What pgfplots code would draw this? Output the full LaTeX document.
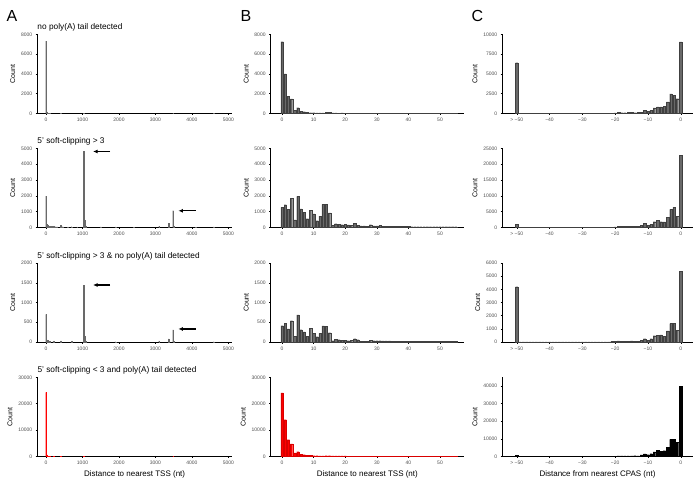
\documentclass[border=0pt]{standalone}
\usepackage{pgfplots}
\pgfplotsset{compat=1.18}
\usepackage{fontspec}
\setmainfont{Liberation Sans}
\usetikzlibrary{arrows.meta}
\definecolor{bargrey}{RGB}{105,105,105}
\definecolor{tickgrey}{RGB}{77,77,77}
\pgfplotsset{
 panel/.style={
   scale only axis, height=79pt,
   axis lines*=left,
   axis line style={-, line width=0.45pt},
   tick align=outside,
   major tick length=1.6pt,
   tick style={line width=0.4pt, black},
   ticklabel style={font=\fontsize{5}{5.5}\selectfont, text=tickgrey},
   /pgf/number format/assume math mode=true,
   /pgf/number format/1000 sep={},
   scaled y ticks=false,
   ymin=0, anchor=south west,
   ylabel={Count},
   ylabel style={font=\fontsize{7}{7.5}\selectfont, yshift=-1pt},
   xlabel style={font=\fontsize{8}{8.5}\selectfont, yshift=1.5pt},
   every axis title/.style={at={(axis description cs:0,1)}, anchor=base west, yshift=4.8pt, font=\fontsize{8.3}{9}\selectfont, inner sep=0pt},
 },
 colA/.style={panel, width=194.7pt, xmin=-240, xmax=5100, xtick={0,1000,2000,3000,4000,5000}, ybar, bar width=22},
 colB/.style={panel, width=193.3pt, xmin=-3.6, xmax=57.6, xtick={0,10,20,30,40,50}, ybar, bar width=0.75},
 colC/.style={panel, width=190.4pt, xmin=-54.4, xmax=3.66, xtick={-50,-40,-30,-20,-10,0}, xticklabels={> −50,−40,−30,−20,−10,0}, ybar, bar width=0.75},
 greybar/.style={fill=bargrey, draw=black!75, line width=0.2pt},
 redbar/.style={fill=red, draw=red!85!black, line width=0.2pt},
 blackbar/.style={fill=black, draw=black, line width=0.2pt},
 spike/.style={fill=bargrey, draw=bargrey, line width=0.2pt},
 spikered/.style={fill=red, draw=red, line width=0.2pt},
}
\begin{document}
\begin{tikzpicture}
\useasboundingbox (0,0) rectangle (700pt,-480pt);
\node[anchor=base west, inner sep=0, font=\fontsize{16}{16}\selectfont] at (6.5pt,-21.7pt) {A};
\node[anchor=base west, inner sep=0, font=\fontsize{16}{16}\selectfont] at (240.5pt,-21.7pt) {B};
\node[anchor=base west, inner sep=0, font=\fontsize{16}{16}\selectfont] at (471.5pt,-21.7pt) {C};

% ---------------- Column A ----------------
\begin{axis}[colA, at={(37.3pt,-113.3pt)}, ymax=8000, ytick={0,2000,4000,6000,8000}, title={no poly(A) tail detected}]
\addplot[spike] coordinates {(0,7300) (20,160) (40,50) (100,30) (400,25) (1030,30) (3485,15) (4600,10)};
\end{axis}
\begin{axis}[colA, at={(37.3pt,-227.3pt)}, ymax=5000, ytick={0,1000,2000,3000,4000,5000}, title={5' soft-clipping > 3}]
\addplot[spike] coordinates {(0,1980) (20,200) (40,120) (70,80) (100,60) (150,50) (200,50) (250,40) (300,40) (410,110) (460,40) (600,30) (700,40) (850,20) (1030,4800) (1050,480) (1080,60) (1500,20) (1900,30) (2400,15) (3100,60) (3365,250) (3485,1050) (3510,80) (4100,15) (4600,20)};
\draw[-{Latex[length=4.5pt,width=4pt]}, line width=1.3pt] (axis cs:1760,4800) -- (axis cs:1290,4800);
\draw[-{Latex[length=4.5pt,width=4pt]}, line width=1.3pt] (axis cs:4100,1045) -- (axis cs:3630,1045);
\end{axis}
\begin{axis}[colA, at={(37.3pt,-342pt)}, ymax=2000, ytick={0,500,1000,1500,2000}, title={5' soft-clipping > 3 \& no poly(A) tail detected}]
\addplot[spike] coordinates {(0,700) (20,60) (40,40) (100,20) (200,15) (410,30) (700,15) (1030,1440) (1050,150) (1080,20) (1900,10) (3100,30) (3365,80) (3485,310) (3510,20) (4600,10)};
\draw[-{Latex[length=4.5pt,width=4pt]}, line width=1.3pt] (axis cs:1760,1443) -- (axis cs:1290,1443);
\draw[-{Latex[length=4.5pt,width=4pt]}, line width=1.3pt] (axis cs:4100,330) -- (axis cs:3630,330);
\end{axis}
\begin{axis}[colA, at={(37.3pt,-456.3pt)}, ymax=30000, ytick={0,10000,20000,30000}, title={5' soft-clipping < 3 and poly(A) tail detected}, xlabel={Distance to nearest TSS (nt)}]
\addplot[spikered] coordinates {(0,24300) (20,600) (40,200) (100,100) (200,60) (400,40) (1030,30) (3485,20)};
\end{axis}

% ---------------- Column B ----------------
\begin{axis}[colB, at={(270.7pt,-113.3pt)}, ymax=8000, ytick={0,2000,4000,6000,8000}]
\addplot[greybar] coordinates {(0,7260) (1,4000) (2,1730) (3,1450) (4,330) (5,570) (6,200) (7,170) (8,100) (9,60) (10,60) (11,40) (12,40) (13,50) (14,120) (15,100) (16,40) (17,40) (18,30) (19,40) (20,30) (21,30) (22,30) (23,30) (24,25) (25,25) (26,25) (27,25) (28,30) (29,25) (30,25) (31,25) (32,20) (33,20) (34,20) (35,20) (36,20) (37,20) (38,20) (39,20) (40,20) (41,15) (42,15) (43,15) (44,15) (45,15) (46,15) (47,15) (48,15) (49,15) (50,15) (51,15) (52,15) (53,15) (54,15) (55,15)};
\end{axis}
\begin{axis}[colB, at={(270.7pt,-227.3pt)}, ymax=5000, ytick={0,1000,2000,3000,4000,5000}]
\addplot[greybar] coordinates {(0,1265) (1,1435) (2,1140) (3,1835) (4,465) (5,1960) (6,1160) (7,950) (8,550) (9,1075) (10,845) (11,420) (12,700) (13,1455) (14,1455) (15,907) (16,130) (17,230) (18,190) (19,170) (20,190) (21,150) (22,130) (23,250) (24,130) (25,85) (26,85) (27,60) (28,170) (29,85) (30,85) (31,130) (32,80) (33,80) (34,80) (35,80) (36,70) (37,70) (38,50) (39,50) (40,50) (41,40) (42,40) (43,40) (44,40) (45,40) (46,40) (47,40) (48,40) (49,40) (50,40) (51,40) (52,40) (53,40) (54,40) (55,40)};
\end{axis}
\begin{axis}[colB, at={(270.7pt,-342pt)}, ymax=2000, ytick={0,500,1000,1500,2000}]
\addplot[greybar] coordinates {(0,415) (1,475) (2,330) (3,540) (4,145) (5,686) (6,313) (7,254) (8,145) (9,347) (10,220) (11,135) (12,220) (13,407) (14,398) (15,237) (16,35) (17,75) (18,60) (19,50) (20,50) (21,35) (22,40) (23,85) (24,60) (25,25) (26,20) (27,20) (28,50) (29,35) (30,35) (31,35) (32,30) (33,30) (34,30) (35,25) (36,25) (37,25) (38,20) (39,20) (40,15) (41,15) (42,15) (43,15) (44,15) (45,15) (46,15) (47,15) (48,15) (49,15) (50,15) (51,15) (52,15) (53,15) (54,15) (55,15)};
\end{axis}
\begin{axis}[colB, at={(270.7pt,-456.3pt)}, ymax=30000, ytick={0,10000,20000,30000}, xlabel={Distance to nearest TSS (nt)}]
\addplot[redbar] coordinates {(0,24050) (1,13900) (2,6330) (3,4680) (4,1270) (5,1770) (6,760) (7,630) (8,380) (9,380) (10,250) (11,220) (12,200) (13,200) (14,250) (15,250) (16,150) (17,150) (18,120) (19,120) (20,120) (21,100) (22,100) (23,100) (24,100) (25,100) (26,100) (27,100) (28,100) (29,100) (30,100) (31,80) (32,80) (33,80) (34,80) (35,80) (36,80) (37,80) (38,80) (39,80) (40,80) (41,60) (42,60) (43,60) (44,60) (45,60) (46,60) (47,60) (48,60) (49,60) (50,60) (51,60) (52,60) (53,60) (54,60) (55,60)};
\end{axis}

% ---------------- Column C ----------------
\begin{axis}[colC, at={(502.3pt,-113.3pt)}, ymax=10000, ytick={0,2500,5000,7500,10000}]
\addplot[greybar] coordinates {(-50,6400) (-49,30) (-48,30) (-47,30) (-46,30) (-45,30) (-44,30) (-43,30) (-42,30) (-41,30) (-40,30) (-39,30) (-38,30) (-37,30) (-36,30) (-35,30) (-34,30) (-33,30) (-32,30) (-31,30) (-30,30) (-29,30) (-28,30) (-27,30) (-26,30) (-25,30) (-24,30) (-23,30) (-22,30) (-21,30) (-20,50) (-19,120) (-18,80) (-17,80) (-16,100) (-15,100) (-14,80) (-13,150) (-12,150) (-11,400) (-10,250) (-9,380) (-8,700) (-7,820) (-6,820) (-5,850) (-4,1450) (-3,2450) (-2,2300) (-1,1850) (0,9050)};
\end{axis}
\begin{axis}[colC, at={(502.3pt,-227.3pt)}, ymax=25000, ytick={0,5000,10000,15000,20000,25000}]
\addplot[greybar] coordinates {(-50,900) (-49,80) (-48,80) (-47,80) (-46,80) (-45,80) (-44,80) (-43,80) (-42,80) (-41,80) (-40,80) (-39,80) (-38,80) (-37,80) (-36,80) (-35,80) (-34,80) (-33,80) (-32,80) (-31,80) (-30,80) (-29,80) (-28,80) (-27,80) (-26,80) (-25,80) (-24,80) (-23,80) (-22,80) (-21,80) (-20,150) (-19,250) (-18,250) (-17,250) (-16,300) (-15,250) (-14,300) (-13,250) (-12,600) (-11,1250) (-10,650) (-9,900) (-8,1800) (-7,2300) (-6,1800) (-5,1750) (-4,3200) (-3,5700) (-2,6300) (-1,3400) (0,22800)};
\end{axis}
\begin{axis}[colC, at={(502.3pt,-342pt)}, ymax=6000, ytick={0,1000,2000,3000,4000,5000,6000}]
\addplot[greybar] coordinates {(-50,4200) (-49,15) (-48,15) (-47,15) (-46,15) (-45,15) (-44,15) (-43,15) (-42,15) (-41,15) (-40,15) (-39,15) (-38,15) (-37,15) (-36,15) (-35,15) (-34,15) (-33,15) (-32,15) (-31,15) (-30,15) (-29,15) (-28,15) (-27,15) (-26,15) (-25,15) (-24,15) (-23,15) (-22,15) (-21,50) (-20,40) (-19,80) (-18,60) (-17,60) (-16,60) (-15,80) (-14,60) (-13,50) (-12,130) (-11,250) (-10,150) (-9,250) (-8,480) (-7,500) (-6,550) (-5,450) (-4,850) (-3,1400) (-2,1430) (-1,900) (0,5350)};
\end{axis}
\begin{axis}[colC, at={(502.3pt,-456.3pt)}, ymax=45000, ytick={0,10000,20000,30000,40000}, xlabel={Distance from nearest CPAS (nt)}]
\addplot[blackbar] coordinates {(-50,700) (-49,100) (-48,100) (-47,100) (-46,100) (-45,100) (-44,100) (-43,100) (-42,100) (-41,100) (-40,100) (-39,100) (-38,100) (-37,100) (-36,100) (-35,100) (-34,100) (-33,100) (-32,100) (-31,100) (-30,100) (-29,100) (-28,100) (-27,100) (-26,100) (-25,100) (-24,100) (-23,100) (-22,100) (-21,100) (-20,150) (-19,300) (-18,300) (-17,300) (-16,300) (-15,300) (-14,350) (-13,300) (-12,800) (-11,1400) (-10,900) (-9,1500) (-8,2500) (-7,3500) (-6,3000) (-5,3200) (-4,5000) (-3,9700) (-2,9800) (-1,8000) (0,40000)};
\end{axis}
\end{tikzpicture}
\end{document}
